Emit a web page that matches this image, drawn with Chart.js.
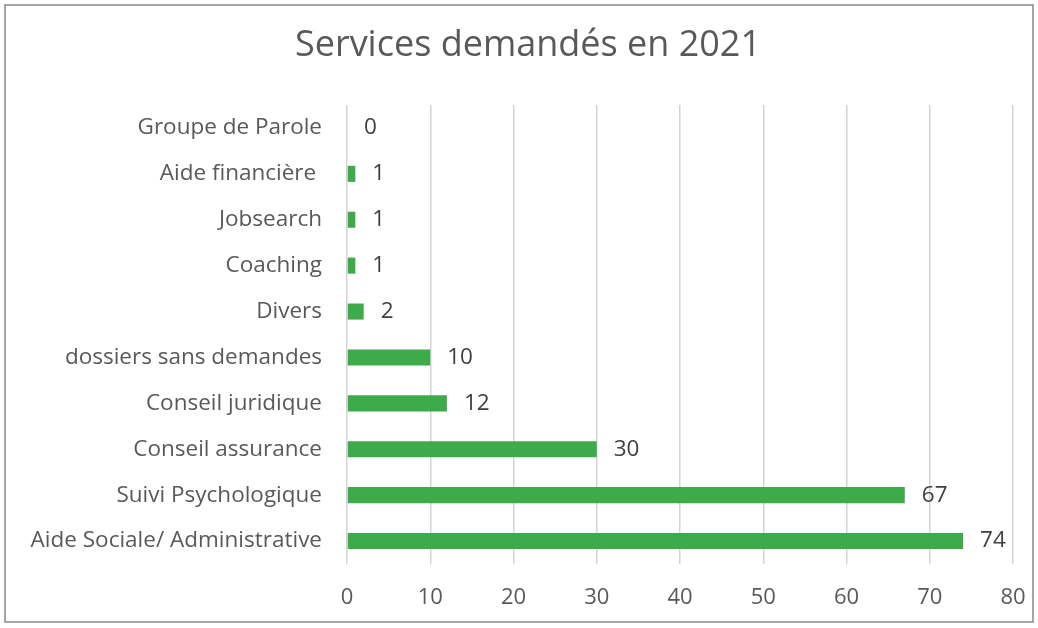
<!DOCTYPE html>
<html>
<head>
<meta charset="utf-8">
<script src="https://cdn.jsdelivr.net/npm/chart.js@4/dist/chart.umd.min.js"></script>
<style>
  html, body { margin: 0; padding: 0; overflow: hidden; background: #fff; }
  canvas { display: block; }
</style>
</head>
<body>
<canvas id="servicesChart" width="1038" height="628"></canvas>
<script>
// services, top to bottom
const categories = [
  "Groupe de Parole", "Aide financière ", "Jobsearch", "Coaching", "Divers",
  "dossiers sans demandes", "Conseil juridique", "Conseil assurance",
  "Suivi Psychologique", "Aide Sociale/ Administrative"
];
const demandes = [0, 1, 1, 1, 2, 10, 12, 30, 67, 74];
const xTicks = [0, 10, 20, 30, 40, 50, 60, 70, 80];

const FONT = "'Open Sans', sans-serif";

// frame, title and value labels
const extras = {
  id: "extras",
  afterDraw(chart) {
    const ctx = chart.ctx;
    ctx.save();
    ctx.strokeStyle = "#898989";
    ctx.lineWidth = 1.5;
    ctx.strokeRect(5, 5, 1028, 617);

    ctx.fillStyle = "#595959";
    ctx.font = "36px " + FONT;
    ctx.textAlign = "center";
    ctx.textBaseline = "middle";
    ctx.fillText("Services demandés en 2021", 528, 46);

    ctx.fillStyle = "#404040";
    ctx.font = "22.5px " + FONT;
    ctx.textAlign = "left";
    chart.getDatasetMeta(0).data.forEach((bar, i) => {
      ctx.fillText(String(demandes[i]), bar.x + 17, bar.y);
    });
    ctx.restore();
  }
};

new Chart(document.getElementById("servicesChart"), {
  type: "bar",
  data: {
    labels: categories,
    datasets: [{
      label: "Services",
      data: demandes,
      backgroundColor: "#3dab4a",
      borderWidth: 0,
      categoryPercentage: 1,
      barPercentage: 0.35,
    }],
  },
  options: {
    indexAxis: "y",
    responsive: false,
    animation: false,
    layout: { padding: { top: 105, right: 25, bottom: 0, left: 0 } },
    scales: {
      x: {
        min: 0,
        max: 80,
        afterBuildTicks: (axis) => { axis.ticks = xTicks.map(v => ({ value: v })); },
        afterFit: (axis) => {
          axis.height = 64;
          axis.paddingLeft = 0;
          axis.paddingRight = 0;
        },
        grid: { color: "#d4d4d4", lineWidth: 1.5, drawTicks: false },
        border: { display: false },
        ticks: { color: "#595959", padding: 21, font: { family: FONT, size: 22 } },
      },
      y: {
        afterFit: (axis) => {
          axis.width = 347;
          axis.paddingTop = 0;
          axis.paddingBottom = 0;
        },
        grid: { display: false, drawTicks: false },
        border: { display: false },
        ticks: { color: "#595959", padding: 25, font: { family: FONT, size: 22.5 } },
      },
    },
    plugins: {
      legend: { display: false },
      tooltip: { enabled: false },
    },
  },
  plugins: [extras],
});
</script>
</body>
</html>
